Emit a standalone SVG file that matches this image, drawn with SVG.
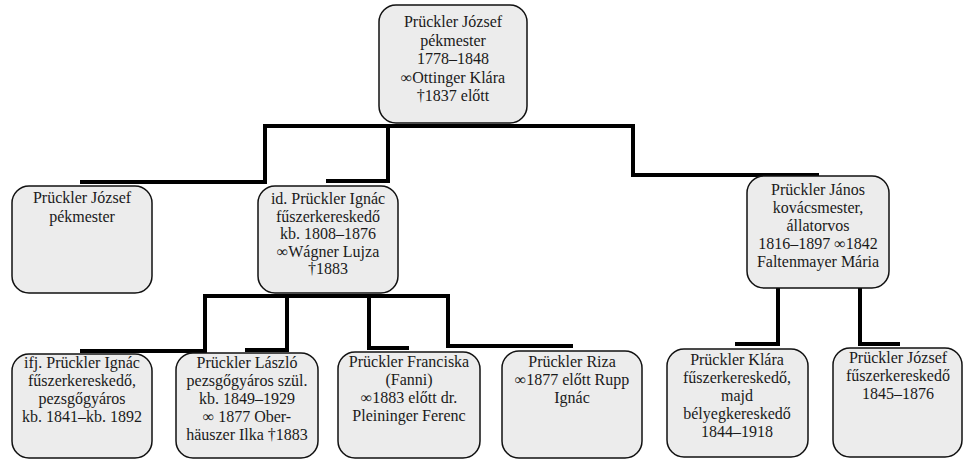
<svg xmlns="http://www.w3.org/2000/svg" width="964" height="460" viewBox="0 0 964 460">
<style>
.box{fill:#ececec;stroke:#111;stroke-width:1.5}
.t{font-family:"Liberation Serif","Times New Roman",serif;font-size:16px;fill:#1a1a1a;text-anchor:middle}
.c{fill:none;stroke:#000;stroke-width:4;stroke-linejoin:miter;stroke-linecap:square}
</style>
<rect width="964" height="460" fill="#fff"/>
<g id="connectors">
<path class="c" d="M265 126 H633"/>
<path class="c" d="M82 182 H265 V126"/>
<path class="c" d="M328 181 H388 V126"/>
<path class="c" d="M633 126 V175 H817"/>
<path class="c" d="M205 296 H448"/>
<path class="c" d="M82 351 H205 V296"/>
<path class="c" d="M247 350 H287 V296"/>
<path class="c" d="M407 348 H369 V296"/>
<path class="c" d="M571 346 H448 V296"/>
<path class="c" d="M737 344 H778 V288"/>
<path class="c" d="M860 288 V344 H898"/>
</g>
<g id="n-root">
<rect class="box" x="379" y="5" width="148" height="118" rx="17"/>
<text class="t" x="453" y="27">Prückler József</text>
<text class="t" x="453" y="45.5">pékmester</text>
<text class="t" x="453" y="64">1778–1848</text>
<text class="t" x="453" y="82.5">∞Ottinger Klára</text>
<text class="t" x="453" y="101">†1837 előtt</text>
</g>
<g id="n-jozsef1">
<rect class="box" x="12" y="186" width="140" height="107" rx="17"/>
<text class="t" x="82" y="203">Prückler József</text>
<text class="t" x="82" y="221.5">pékmester</text>
</g>
<g id="n-ignac">
<rect class="box" x="258" y="186" width="140" height="107" rx="17"/>
<text class="t" x="328" y="204">id. Prückler Ignác</text>
<text class="t" x="328" y="221.5">fűszerkereskedő</text>
<text class="t" x="328" y="239">kb. 1808–1876</text>
<text class="t" x="328" y="256.5">∞Wágner Lujza</text>
<text class="t" x="328" y="274">†1883</text>
</g>
<g id="n-janos">
<rect class="box" x="747" y="176" width="142" height="112" rx="17"/>
<text class="t" x="818" y="195">Prückler János</text>
<text class="t" x="818" y="213">kovácsmester,</text>
<text class="t" x="818" y="231">állatorvos</text>
<text class="t" x="818" y="249">1816–1897 ∞1842</text>
<text class="t" x="818" y="267">Faltenmayer Mária</text>
</g>
<g id="n-ifjignac">
<rect class="box" x="12" y="354" width="140" height="104" rx="17"/>
<text class="t" x="82" y="368">ifj. Prückler Ignác</text>
<text class="t" x="82" y="386">fűszerkereskedő,</text>
<text class="t" x="82" y="404">pezsgőgyáros</text>
<text class="t" x="82" y="422">kb. 1841–kb. 1892</text>
</g>
<g id="n-laszlo">
<rect class="box" x="176" y="353" width="142" height="105" rx="17"/>
<text class="t" x="247" y="368">Prückler László</text>
<text class="t" x="247" y="386">pezsgőgyáros szül.</text>
<text class="t" x="247" y="404">kb. 1849–1929</text>
<text class="t" x="247" y="422">∞ 1877 Ober-</text>
<text class="t" x="247" y="440">häuszer Ilka †1883</text>
</g>
<g id="n-franciska">
<rect class="box" x="338" y="352" width="142" height="106" rx="17"/>
<text class="t" x="409" y="367">Prückler Franciska</text>
<text class="t" x="409" y="385">(Fanni)</text>
<text class="t" x="409" y="403">∞1883 előtt dr.</text>
<text class="t" x="409" y="421">Pleininger Ferenc</text>
</g>
<g id="n-riza">
<rect class="box" x="502" y="351" width="140" height="107" rx="17"/>
<text class="t" x="572" y="367">Prückler Riza</text>
<text class="t" x="572" y="385">∞1877 előtt Rupp</text>
<text class="t" x="572" y="403">Ignác</text>
</g>
<g id="n-klara">
<rect class="box" x="667" y="349" width="141" height="108" rx="17"/>
<text class="t" x="737" y="365">Prückler Klára</text>
<text class="t" x="737" y="383">fűszerkereskedő,</text>
<text class="t" x="737" y="401">majd</text>
<text class="t" x="737" y="419">bélyegkereskedő</text>
<text class="t" x="737" y="437">1844–1918</text>
</g>
<g id="n-jozsef2">
<rect class="box" x="833" y="348" width="129" height="109" rx="17"/>
<text class="t" x="898" y="363">Prückler József</text>
<text class="t" x="898" y="381">fűszerkereskedő</text>
<text class="t" x="898" y="399">1845–1876</text>
</g>
</svg>
